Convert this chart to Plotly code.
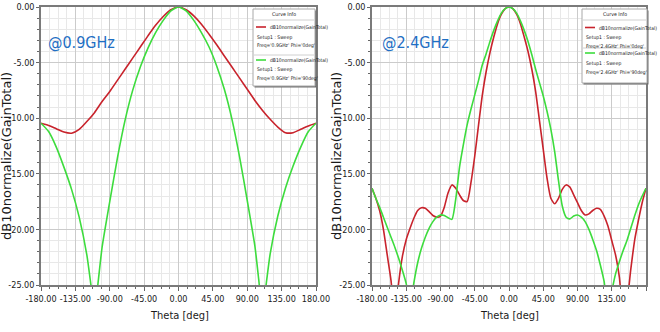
import plotly.graph_objects as go

# ---- 0.9 GHz radiation pattern (normalized gain, dB) ----
theta_09_phi0 = [-180, -170, -160, -150, -140, -130, -120, -110, -100, -90, -80, -70, -60, -50,
                 -40, -30, -20, -10, 0, 10, 20, 30, 40, 50, 60, 70, 80, 90, 100, 110, 120,
                 130, 140, 150, 160, 170, 180]
gain_09_phi0 = [-10.45, -10.65, -10.95, -11.25, -11.35, -11.0, -10.3, -9.5, -8.5, -7.6, -6.6,
                -5.6, -4.6, -3.6, -2.6, -1.65, -0.85, -0.25, 0.0, -0.25, -0.8, -1.55, -2.45,
                -3.4, -4.4, -5.4, -6.4, -7.4, -8.4, -9.3, -10.1, -10.8, -11.3, -11.3, -11.0,
                -10.7, -10.45]

theta_09_phi90 = [-180, -170, -160, -150, -140, -130, -120, -115, -110, -105, -100, -90, -80,
                  -70, -60, -50, -40, -30, -20, -10, 0, 10, 20, 30, 40, 50, 60, 70, 80, 90,
                  100, 105, 110, 115, 120, 130, 140, 150, 160, 170, 180]
gain_09_phi90 = [-10.45, -11.2, -12.6, -14.4, -16.4, -18.9, -22.3, -24.8, -27.5, -24.6, -21.6,
                 -17.5, -13.6, -10.2, -7.5, -5.4, -3.7, -2.3, -1.2, -0.35, 0.0, -0.35, -1.2,
                 -2.3, -3.6, -5.3, -7.4, -10.1, -13.5, -17.4, -21.5, -24.5, -27.5, -24.8,
                 -22.2, -18.8, -16.3, -14.3, -12.6, -11.2, -10.45]

# ---- 2.4 GHz radiation pattern (normalized gain, dB) ----
theta_24 = [-180, -175, -170, -165, -160, -155, -150, -145, -140, -135, -130, -125, -120,
            -115, -110, -105, -100, -95, -90, -85, -80, -75, -70, -65, -60, -55, -50, -45,
            -40, -35, -30, -25, -20, -15, -10, -5, 0, 5, 10, 15, 20, 25, 30, 35, 40, 45,
            50, 55, 60, 65, 70, 75, 80, 85, 90, 95, 100, 105, 110, 115, 120, 125, 130, 135,
            140, 145, 150, 155, 160, 165, 170, 175, 180]
gain_24_phi0 = [-16.3, -17.2, -18.3, -20.0, -22.3, -24.6, -28.0, -24.8, -22.4, -20.9, -19.9,
                -19.0, -18.3, -18.05, -18.1, -18.4, -18.75, -18.9, -18.8, -18.0, -16.7, -16.0,
                -16.3, -16.9, -17.4, -17.5, -15.8, -13.4, -10.6, -7.9, -5.8, -4.1, -2.7,
                -1.5, -0.65, -0.15, 0.0, -0.15, -0.65, -1.5, -2.7, -4.0, -5.6, -7.6, -10.2,
                -12.8, -15.4, -17.2, -17.7, -17.2, -16.4, -16.0, -16.2, -16.9, -17.6, -18.3,
                -18.7, -18.6, -18.3, -18.1, -18.2, -18.8, -19.7, -21.0, -22.3, -24.3, -27.5,
                -26.5, -23.6, -21.0, -19.2, -17.6, -16.3]
gain_24_phi90 = [-16.3, -17.2, -18.0, -18.9, -19.8, -20.7, -21.6, -22.6, -23.7, -24.9, -27.0,
                 -24.8, -23.0, -21.7, -20.7, -19.9, -19.3, -18.9, -18.7, -18.75, -18.95,
                 -19.1, -17.3, -14.4, -12.4, -10.6, -9.2, -7.9, -6.6, -5.2, -4.2, -3.1,
                 -2.1, -1.25, -0.55, -0.15, 0.0, -0.15, -0.55, -1.25, -2.1, -3.1, -4.3, -5.6,
                 -6.8, -8.0, -9.4, -11.0, -13.0, -15.6, -17.9, -18.9, -19.05, -18.8, -18.7,
                 -18.9, -19.3, -20.0, -20.9, -21.9, -23.2, -24.7, -27.5, -25.6, -24.0, -22.9,
                 -21.9, -21.0, -19.9, -18.8, -17.8, -17.0, -16.3]

x_ticks = [-180, -135, -90, -45, 0, 45, 90, 135, 180]
y_ticks = [0, -5, -10, -15, -20, -25]

W, H = 660, 332
RED = "#c8232c"
GREEN = "#3ddc3d"
NARROW = "DejaVu Sans Condensed, Liberation Sans Narrow, Liberation Sans, sans-serif"
WIDE = "DejaVu Sans, Verdana, sans-serif"


def px(x):
    return x / W


def py(y):
    return 1 - y / H


fig = go.Figure()
fig.add_trace(go.Scatter(x=theta_09_phi0, y=gain_09_phi0, mode="lines", line=dict(color=RED, width=1.6, shape="spline", smoothing=0.8), xaxis="x", yaxis="y"))
fig.add_trace(go.Scatter(x=theta_09_phi90, y=gain_09_phi90, mode="lines", line=dict(color=GREEN, width=1.6, shape="spline", smoothing=0.6), xaxis="x", yaxis="y"))
fig.add_trace(go.Scatter(x=theta_24, y=gain_24_phi0, mode="lines", line=dict(color=RED, width=1.6, shape="spline", smoothing=0.6), xaxis="x2", yaxis="y2"))
fig.add_trace(go.Scatter(x=theta_24, y=gain_24_phi90, mode="lines", line=dict(color=GREEN, width=1.6, shape="spline", smoothing=0.6), xaxis="x2", yaxis="y2"))

xaxis_style = dict(
    range=[-180, 180], tickvals=x_ticks, ticktext=[f"{v:.2f}" for v in x_ticks], tickangle=0,
    automargin=False,
    showgrid=True, gridcolor="#cbcbcb", gridwidth=1,
    minor=dict(dtick=11.25, tick0=-180, showgrid=True, gridcolor="#e8e8e8", ticks="outside", ticklen=2, tickcolor="#666"),
    ticks="outside", ticklen=4, tickcolor="#666",
    showline=True, linecolor="#7a7a7a", linewidth=1.5, mirror=True,
    zeroline=False, tickfont=dict(family=NARROW, size=9, color="#1a1a1a"),
)
yaxis_style = dict(
    range=[-25, 0], tickvals=y_ticks, ticktext=[f"{v:.2f}" for v in y_ticks],
    automargin=False,
    showgrid=True, gridcolor="#cbcbcb", gridwidth=1,
    minor=dict(dtick=1, tick0=0, showgrid=True, gridcolor="#e8e8e8", ticks="outside", ticklen=2, tickcolor="#666"),
    ticks="outside", ticklen=3, tickcolor="#666",
    showline=True, linecolor="#7a7a7a", linewidth=1.5, mirror=True,
    zeroline=False, tickfont=dict(family=NARROW, size=9, color="#1a1a1a"),
)

ydom = [py(285), py(7)]
fig.update_layout(
    width=W, height=H, margin=dict(l=0, r=0, t=0, b=0, autoexpand=False),
    paper_bgcolor="white", plot_bgcolor="white", showlegend=False,
    xaxis=dict(domain=[px(41), px(316)], anchor="y", **xaxis_style),
    yaxis=dict(domain=ydom, anchor="x", **yaxis_style),
    xaxis2=dict(domain=[px(372), px(646)], anchor="y2", **xaxis_style),
    yaxis2=dict(domain=ydom, anchor="x2", **yaxis_style),
)

shapes = []
annotations = []


def text(x, y, s, size, family=NARROW, color="#1a1a1a", xanchor="center", angle=0):
    annotations.append(dict(
        x=px(x), y=py(y), xref="paper", yref="paper", text=s, showarrow=False,
        xanchor=xanchor, yanchor="middle", textangle=angle,
        font=dict(family=family, size=size, color=color),
    ))


def curve_info(left, top, right, bottom, rows, freq):
    # drop shadow, then the white box
    shapes.append(dict(type="rect", xref="paper", yref="paper", x0=px(left + 1.5), x1=px(right + 1.5),
                       y0=py(bottom + 1.5), y1=py(top + 1.5), line=dict(width=0), fillcolor="#6e6e6e"))
    shapes.append(dict(type="rect", xref="paper", yref="paper", x0=px(left), x1=px(right),
                       y0=py(bottom), y1=py(top), line=dict(color="#a8a8a8", width=1), fillcolor="white"))
    text((left + right) / 2, top + 5.5, "Curve Info", 5.2)
    shapes.append(dict(type="line", xref="paper", yref="paper", x0=px(left + 1), x1=px(right - 1),
                       y0=py(top + 11), y1=py(top + 11), line=dict(color="#d0d0d0", width=1)))
    for i, (color, phi, y0) in enumerate(rows):
        if i > 0:
            shapes.append(dict(type="line", xref="paper", yref="paper", x0=px(left + 1), x1=px(right - 1),
                               y0=py(y0 - 5), y1=py(y0 - 5), line=dict(color="#d0d0d0", width=1)))
        shapes.append(dict(type="line", xref="paper", yref="paper", x0=px(left + 3), x1=px(left + 13),
                           y0=py(y0), y1=py(y0), line=dict(color=color, width=1.6)))
        text(left + 15, y0, "dB10normalize(GainTotal)", 5, xanchor="left")
        text(left + 2, y0 + 10, "Setup1 : Sweep", 5, xanchor="left")
        text(left + 2, y0 + 19, f"Freq='{freq}' Phi='{phi}'", 5, xanchor="left")


curve_info(253, 9, 315, 86, [(RED, "0deg", 27), (GREEN, "90deg", 60)], "0.9GHz")
curve_info(582, 9, 647, 83, [(RED, "0deg", 27.5), (GREEN, "90deg", 53)], "2.4GHz")

# frequency labels
text(81, 42, "@0.9GHz", 16, color="#1f6fc4")
text(415, 42, "@2.4GHz", 16, color="#1f6fc4")

# axis titles
for xc in (6, 336):
    text(xc, 156, "dB10normalize(GainTotal)", 13, family=WIDE, angle=-90)
for xc in (179, 509):
    text(xc, 315, "Theta [deg]", 11)

fig.update_layout(shapes=shapes, annotations=annotations)
fig.write_html("out.html")
